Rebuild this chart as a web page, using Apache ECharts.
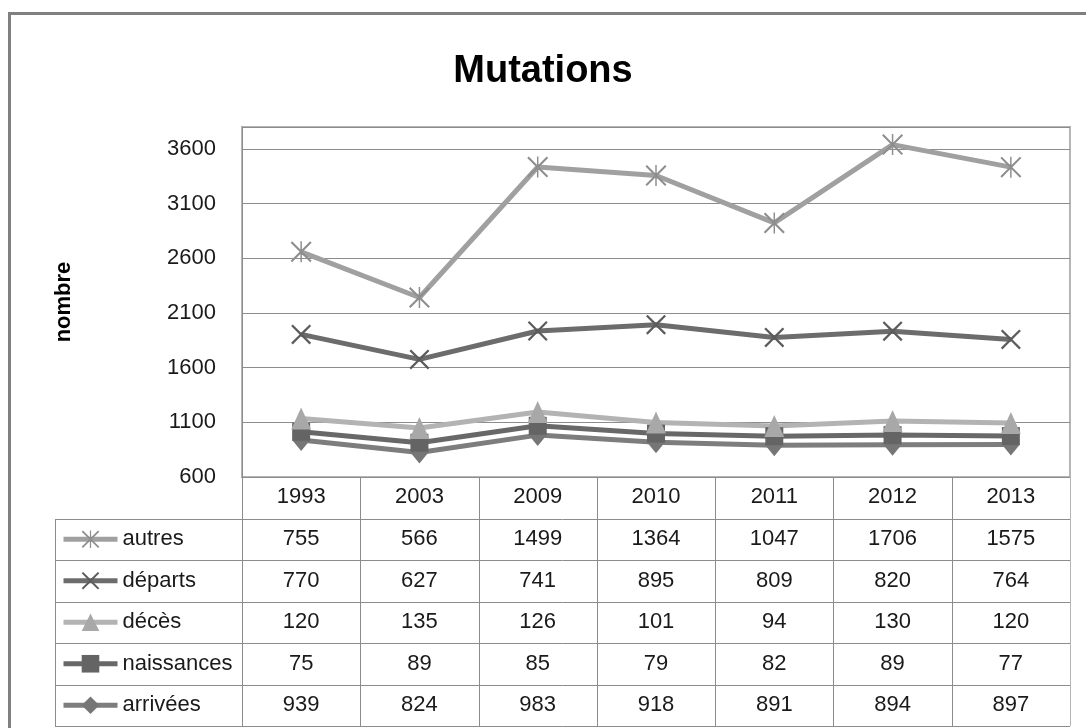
<!DOCTYPE html>
<html><head><meta charset="utf-8">
<script src="https://cdn.jsdelivr.net/npm/echarts@6/dist/echarts.min.js"></script>
<style>html,body{margin:0;padding:0;background:#fff}#c{width:1086px;height:728px}</style>
</head><body><div id="c"></div>
<script>
const years = ['1993','2003','2009','2010','2011','2012','2013'];
const autres = [755,566,1499,1364,1047,1706,1575];
const departs = [770,627,741,895,809,820,764];
const deces = [120,135,126,101,94,130,120];
const naissances = [75,89,85,79,82,89,77];
const arrivees = [939,824,983,918,891,894,897];
const yMin = 600, yMax = 3800, yStep = 500;

const FONT = 'Liberation Sans';
const TXT = '#1a1a1a';
const GRIDC = '#8c8c8c';

const xPath = 'path://M0,1.6 L1.6,0 L10,8.4 L18.4,0 L20,1.6 L11.6,10 L20,18.4 L18.4,20 L10,11.6 L1.6,20 L0,18.4 L8.4,10 Z';
const starPath = 'path://M0,1.4 L1.4,0 L10,8.6 L18.6,0 L20,1.4 L11.4,10 L20,18.6 L18.6,20 L10,11.4 L1.4,20 L0,18.6 L8.6,10 Z M9.3,0 L10.7,0 L10.7,20 L9.3,20 Z';

const seriesDefs = [
  {name:'arrivées', data:arrivees, color:'#7d7d7d', mcolor:'#767676', symbol:'diamond', size:[18,22]},
  {name:'naissances', data:naissances, color:'#686868', mcolor:'#646464', symbol:'rect', size:18},
  {name:'décès', data:deces, color:'#b3b3b3', mcolor:'#a8a8a8', symbol:'triangle', size:[20,22]},
  {name:'départs', data:departs, color:'#6c6c6c', mcolor:'#5c5c5c', symbol:xPath, size:20},
  {name:'autres', data:autres, color:'#a0a0a0', mcolor:'#8e8e8e', symbol:starPath, size:21}
];
const tableRows = ['autres','départs','décès','naissances','arrivées'];

const chart = echarts.init(document.getElementById('c'), null, {renderer:'canvas'});

const option = {
  animation: false,
  backgroundColor: '#fff',
  textStyle: {fontFamily: FONT},
  title: {
    text: 'Mutations', left: 'center', top: 53, padding: 0,
    textStyle: {fontFamily: FONT, fontWeight: 'bold', fontSize: 38, color: '#000', lineHeight: 38}
  },
  grid: {left: 242, right: 16, top: 127, bottom: 251, show: true, borderColor: '#b5b5b5', borderWidth: 2, containLabel: false},
  xAxis: {
    type: 'category', data: years, boundaryGap: true,
    axisLine: {show: true, lineStyle: {color: GRIDC, width: 1}},
    axisTick: {show: false},
    axisLabel: {fontSize: 22, color: TXT, margin: 9, fontFamily: FONT}
  },
  yAxis: {
    type: 'value', min: yMin, max: yMax, interval: yStep,
    name: 'nombre', nameLocation: 'middle', nameRotate: 90, nameGap: 167,
    nameTextStyle: {fontFamily: FONT, fontWeight: 'bold', fontSize: 22, color: '#000'},
    axisLine: {show: true, lineStyle: {color: GRIDC, width: 1}},
    axisTick: {show: false},
    axisLabel: {fontSize: 22, color: TXT, margin: 26, fontFamily: FONT,
      formatter: v => ((v - yMin) % yStep === 0 ? String(v) : '')},
    splitLine: {show: true, lineStyle: {color: GRIDC, width: 1}}
  },
  series: seriesDefs.map(s => ({
    type: 'line', name: s.name, data: s.data, stack: 'total',
    symbol: s.symbol, symbolSize: s.size, showSymbol: true,
    lineStyle: {color: s.color, width: 5},
    itemStyle: {color: s.mcolor},
    emphasis: {disabled: true}
  }))
};
chart.setOption(option);

const xs = years.map(y => chart.convertToPixel({xAxisIndex: 0}, y));
const colW = xs[1] - xs[0];
const tLeftCol = xs[0] - colW / 2;
const tRight = xs[xs.length - 1] + colW / 2;
const top0 = chart.convertToPixel({yAxisIndex: 0}, yMin);
const rowH = 41.5;
const tableLeft = 55;
const nRows = tableRows.length + 1;
const tBottom = top0 + rowH * nRows;

const g = [];
g.push({type: 'rect', shape: {x: 9.5, y: 13.5, width: 1200, height: 900}, style: {fill: 'none', stroke: '#808080', lineWidth: 3}, z: 1});
for (let r = 1; r <= nRows; r++) {
  const y = Math.round(top0 + rowH * r) + 0.5;
  g.push({type: 'line', shape: {x1: tableLeft, y1: y, x2: tRight, y2: y}, style: {stroke: GRIDC, lineWidth: 1}, z: 5});
}
g.push({type: 'line', shape: {x1: tableLeft + 0.5, y1: Math.round(top0 + rowH), x2: tableLeft + 0.5, y2: tBottom}, style: {stroke: GRIDC, lineWidth: 1}, z: 5});
for (let i = 0; i <= years.length; i++) {
  const x = Math.round(tLeftCol + colW * i) + 0.5;
  g.push({type: 'line', shape: {x1: x, y1: top0, x2: x, y2: tBottom}, style: {stroke: i === years.length ? '#b5b5b5' : GRIDC, lineWidth: 1}, z: 5});
}
const dataByName = {};
seriesDefs.forEach(s => dataByName[s.name] = s.data);
tableRows.forEach((name, r) => {
  const cy = top0 + rowH * (r + 1) + rowH / 2;
  dataByName[name].forEach((v, i) => {
    g.push({type: 'text', x: xs[i], y: cy, style: {text: String(v), fill: TXT, font: '22px "' + FONT + '"', align: 'center', verticalAlign: 'middle'}, z: 6});
  });
});

const itemH = 22;
chart.setOption({
  graphic: g,
  legend: {
    data: tableRows.map(n => ({name: n})), orient: 'vertical', left: 61, top: top0 + rowH * 1.5 - itemH / 2,
    itemWidth: 54, itemHeight: itemH, itemGap: rowH - itemH, padding: 0,
    lineStyle: {width: 5},
    textStyle: {fontFamily: FONT, fontSize: 22, color: TXT, lineHeight: 22}
  }
});
</script>
</body></html>
